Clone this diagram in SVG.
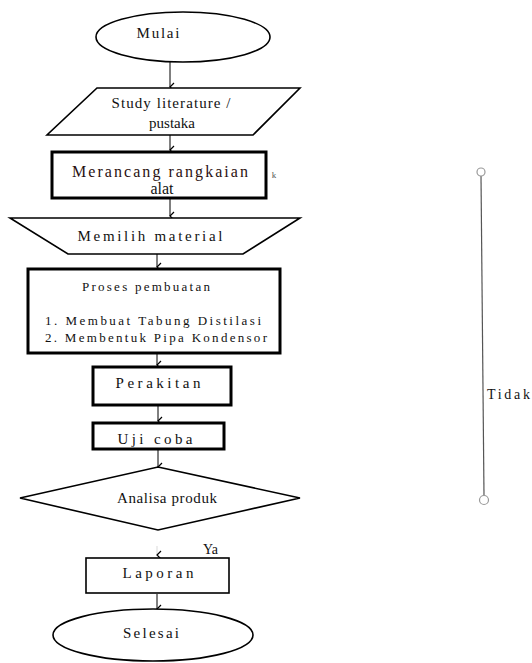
<svg xmlns="http://www.w3.org/2000/svg" width="532" height="663" viewBox="0 0 532 663">
<style>
.s{fill:#fff;stroke:#000;stroke-width:1.6}
.k{fill:#fff;stroke:#000;stroke-width:3}
.c{stroke:#000;stroke-width:1;fill:none}
</style>
<defs>
<marker id="a" markerWidth="10" markerHeight="8" refX="5" refY="6" orient="auto" markerUnits="userSpaceOnUse" viewBox="0 0 10 8">
<path d="M1,2 L5,6 L9,2" fill="none" stroke="#000" stroke-width="1.2"/>
</marker>
</defs>
<rect width="532" height="663" fill="#fff"/>
<g font-family="Liberation Serif, Times New Roman, serif" font-size="15" fill="#111" text-anchor="middle">
<g id="connectors">
<line class="c" x1="170" y1="62" x2="170" y2="87" marker-end="url(#a)"/>
<line class="c" x1="170" y1="135" x2="170" y2="150" marker-end="url(#a)"/>
<line class="c" x1="170" y1="199" x2="170" y2="216" marker-end="url(#a)"/>
<line class="c" x1="157" y1="254" x2="157" y2="267" marker-end="url(#a)"/>
<line class="c" x1="157" y1="354" x2="157" y2="365" marker-end="url(#a)"/>
<line class="c" x1="158" y1="406" x2="158" y2="421" marker-end="url(#a)"/>
<line class="c" x1="158" y1="450" x2="158" y2="467" marker-end="url(#a)"/>
<line class="c" x1="157" y1="546" x2="157" y2="555" stroke-opacity="0.15" marker-end="url(#a)"/>
<line class="c" x1="157" y1="594" x2="157" y2="609" marker-end="url(#a)"/>
<line x1="481" y1="176" x2="484" y2="496" stroke="#555" stroke-width="1.2"/>
<circle cx="481" cy="172" r="4" fill="#fff" stroke="#999" stroke-width="1.2"/>
<circle cx="484" cy="500" r="4.5" fill="#fff" stroke="#999" stroke-width="1.2"/>
<text x="203" y="554" font-size="14" text-anchor="start">Ya</text>
<text x="487" y="399" font-size="14" text-anchor="start" textLength="43">Tidak</text>
</g>
<g id="mulai">
<ellipse class="s" cx="183" cy="37" rx="87" ry="25"/>
<text x="158" y="38" textLength="43">Mulai</text>
</g>
<g id="study">
<polygon class="s" points="97,88 300,88 253,135 47,135"/>
<text x="171" y="108" textLength="119">Study literature /</text>
<text x="172" y="128">pustaka</text>
</g>
<g id="merancang">
<rect class="k" x="52" y="152" width="214" height="46"/>
<text x="160" y="177" font-size="16" fill="#2a1010" textLength="176">Merancang rangkaian</text>
<text x="162" y="194" font-size="16">alat</text>
<text x="274" y="178" font-size="9" fill="#555">k</text>
</g>
<g id="memilih">
<polygon class="s" points="10,218 300,218 243,254 68,254"/>
<text x="150" y="241" textLength="145">Memilih material</text>
</g>
<g id="proses">
<rect class="k" x="28" y="269" width="252" height="84"/>
<text x="146" y="291" font-size="13" textLength="128">Proses pembuatan</text>
<text x="45" y="325" font-size="13" text-anchor="start" textLength="216">1. Membuat Tabung Distilasi</text>
<text x="45" y="342" font-size="13" text-anchor="start" textLength="222">2. Membentuk Pipa Kondensor</text>
</g>
<g id="perakitan">
<rect class="k" x="93" y="367" width="138" height="38"/>
<text x="158" y="388" textLength="85">Perakitan</text>
</g>
<g id="ujicoba">
<rect class="k" x="93" y="423" width="131" height="26"/>
<text x="155" y="444" textLength="75">Uji coba</text>
</g>
<g id="analisa">
<polygon class="s" points="158,467 300,498 158,530 20,498"/>
<text x="167" y="503" textLength="100">Analisa produk</text>
</g>
<g id="laporan">
<rect class="s" x="86" y="558" width="143" height="35" stroke-width="1.2"/>
<text x="158" y="578" textLength="71">Laporan</text>
</g>
<g id="selesai">
<ellipse class="s" cx="153" cy="635" rx="100" ry="26"/>
<text x="151" y="638" textLength="56">Selesai</text>
</g>
</g>
</svg>
